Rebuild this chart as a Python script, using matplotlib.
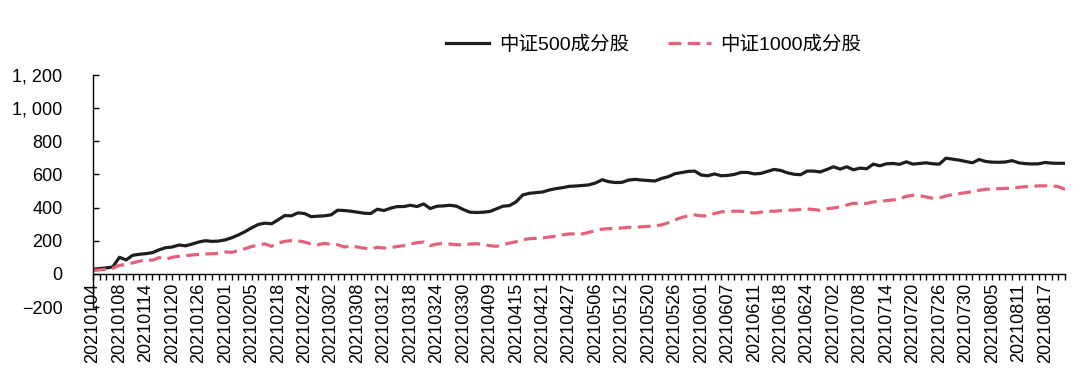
import matplotlib
matplotlib.use('Agg')
import matplotlib.pyplot as plt
from matplotlib.ticker import FuncFormatter

plt.rcParams['font.family'] = ['Liberation Sans', 'Noto Sans CJK SC', 'DejaVu Sans']

# trading days shown on the category axis (by month)
days_by_month = {
    '202101': [4, 5, 6, 7, 8, 11, 12, 13, 14, 15, 18, 19, 20, 21, 22, 25, 26, 27, 28, 29],
    '202102': [1, 2, 3, 4, 5, 8, 9, 10, 18, 19, 22, 23, 24, 25, 26],
    '202103': [1, 2, 3, 4, 5, 8, 9, 10, 11, 12, 15, 16, 17, 18, 19, 22, 23, 24, 25, 26, 29, 30, 31],
    '202104': [1, 2, 9, 12, 13, 14, 15, 16, 19, 20, 21, 22, 23, 26, 27, 28, 29, 30],
    '202105': [6, 7, 10, 11, 12, 13, 14, 17, 20, 21, 24, 25, 26, 27, 28, 31],
    '202106': [1, 2, 3, 4, 7, 8, 9, 10, 11, 15, 16, 17, 18, 21, 22, 23, 24, 25, 28, 29],
    '202107': [2, 5, 6, 7, 8, 9, 12, 13, 14, 15, 16, 19, 20, 21, 22, 23, 26, 27, 28, 29, 30],
    '202108': [2, 3, 4, 5, 6, 9, 10, 11, 12, 13, 16, 17, 18, 19, 20],
}
dates = [m + f'{d:02d}' for m, days in days_by_month.items() for d in days]

zz500 = [28, 32, 36, 42, 100, 84, 112, 118, 122, 128, 145, 158, 162, 174, 169, 180,
         192, 200, 196, 198, 205, 218, 235, 255, 278, 298, 306, 302, 326, 352, 350, 368,
         364, 345, 348, 350, 356, 384, 382, 378, 372, 366, 364, 390, 382, 396, 406, 406,
         414, 406, 422, 394, 408, 410, 414, 408, 388, 372, 370, 372, 376, 392, 408, 412,
         435, 476, 486, 490, 494, 506, 514, 520, 528, 530, 533, 537, 548, 568, 556, 551,
         552, 566, 570, 566, 563, 560, 576, 586, 604, 611, 618, 620, 596, 592, 603, 592,
         594, 600, 612, 612, 603, 606, 618, 630, 624, 610, 601, 598, 620, 620, 615, 630,
         646, 632, 646, 628, 638, 634, 662, 652, 664, 666, 661, 676, 662, 666, 670, 664,
         662, 698, 692, 686, 678, 670, 690, 678, 674, 673, 675, 683, 670, 665, 663, 664,
         672, 668, 667, 667]

zz1000 = [20, 24, 28, 34, 52, 56, 66, 76, 86, 82, 98, 88, 100, 106, 110, 114,
          117, 120, 121, 124, 132, 130, 140, 152, 165, 174, 181, 166, 186, 196, 201, 199,
          192, 180, 176, 184, 177, 176, 162, 168, 162, 155, 150, 160, 156, 158, 165, 170,
          180, 188, 192, 170, 180, 184, 180, 176, 174, 180, 182, 178, 170, 166, 175, 186,
          194, 206, 212, 214, 217, 222, 228, 235, 241, 241, 241, 250, 262, 270, 273, 273,
          277, 281, 281, 284, 287, 289, 296, 308, 325, 340, 350, 356, 350, 350, 364, 374,
          377, 378, 378, 372, 367, 372, 378, 378, 381, 384, 385, 388, 392, 388, 383, 392,
          398, 404, 415, 426, 423, 425, 434, 436, 442, 446, 452, 468, 474, 472, 464, 456,
          458, 470, 478, 484, 490, 496, 504, 510, 512, 514, 516, 518, 522, 526, 528, 531,
          531, 531, 526, 510]

fig = plt.figure(figsize=(10.8, 3.9), dpi=100)
ax = fig.add_axes([0.0861, 0.2128, 0.9, 0.595])

x = range(len(dates))
ax.plot(x, zz500, color='#1e1e1e', linewidth=2.3, label='中证500成分股')
ax.plot(x, zz1000, color='#e5607a', linewidth=2.3, linestyle=(0, (4, 2)), label='中证1000成分股')

ax.set_xlim(0, len(dates) - 1)
ax.set_ylim(-200, 1200)
ax.set_yticks(range(-200, 1201, 200))
ax.yaxis.set_major_formatter(
    FuncFormatter(lambda v, p: f'{int(v):,}'.replace(',', ', ').replace('-', '\u2212')))

ax.spines['top'].set_visible(False)
ax.spines['right'].set_visible(False)
ax.spines['bottom'].set_position(('data', 0))
ax.spines['left'].set_linewidth(1.0)
ax.spines['bottom'].set_linewidth(1.0)

ax.set_xticks(list(x)[::4])
ax.set_xticklabels(dates[::4], rotation=90, fontsize=13)
ax.set_xticks(list(x), minor=True)
ax.tick_params(axis='x', which='both', direction='out', length=4, width=1, pad=2.5)
ax.tick_params(axis='y', direction='in', length=4, width=1, pad=22, labelsize=13)

ax.legend(loc='center', bbox_to_anchor=(0.577, 1.13), ncol=2, frameon=False,
          fontsize=14, handlelength=2.2, columnspacing=2.0, handletextpad=0.5)

fig.savefig('out.png', dpi=100)
